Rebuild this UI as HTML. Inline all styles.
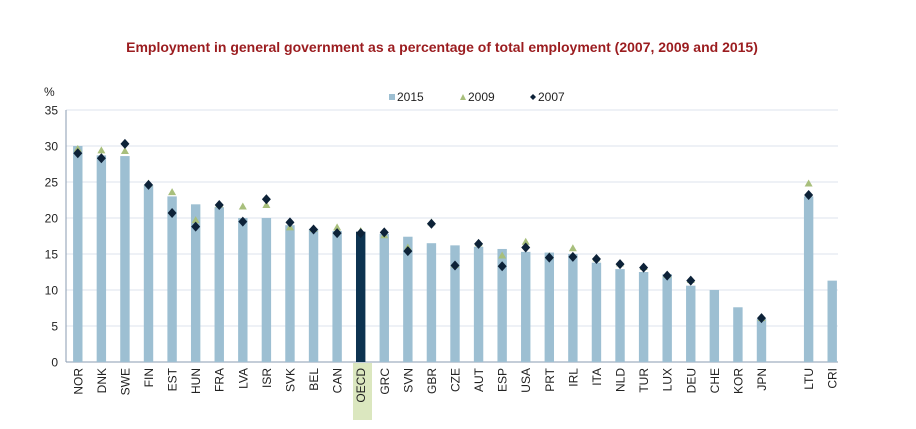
<!DOCTYPE html>
<html><head><meta charset="utf-8"><style>
html,body{margin:0;padding:0;background:#fff;}
svg{display:block;font-family:"Liberation Sans",sans-serif;}
</style></head><body>
<svg id="chart" width="916" height="429">
<text x="442" y="52" text-anchor="middle" font-size="14" font-weight="bold" fill="#9b1c1f">Employment in general government as a percentage of total employment (2007, 2009 and 2015)</text>
<text x="44" y="96" font-size="12" fill="#222">%</text>
<g>
<g><rect x="389" y="94" width="6" height="6" fill="#9dbfd2"/><text x="397" y="101" font-size="12" fill="#222">2015</text></g>
<g><polygon points="460,100 466,100 463,94" fill="#a8bf7c"/><text x="468" y="101" font-size="12" fill="#222">2009</text></g>
<g><polygon points="533,94 536,97 533,100 530,97" fill="#0d2238"/><text x="538" y="101" font-size="12" fill="#222">2007</text></g>
</g>
<rect x="353" y="363" width="19" height="57" fill="#dbe7bf"/>
<g id="grid"></g><g id="bars"></g><g id="marks"></g><g id="xlabels"></g>
</svg>
<script>
const categories=["NOR","DNK","SWE","FIN","EST","HUN","FRA","LVA","ISR","SVK","BEL","CAN","OECD","GRC","SVN","GBR","CZE","AUT","ESP","USA","PRT","IRL","ITA","NLD","TUR","LUX","DEU","CHE","KOR","JPN","","LTU","CRI"];
const values2015=[30,28.7,28.6,24.6,23.0,21.9,21.5,20.0,20.0,19.0,18.5,18.2,18.1,17.8,17.4,16.5,16.2,16.0,15.7,15.3,15.2,15.0,13.8,12.9,12.5,12.2,10.6,10.0,7.6,6.0,null,23.0,11.3];
const values2009=[29.6,29.4,29.3,24.8,23.6,19.7,21.9,21.6,21.8,18.7,18.5,18.7,18.2,17.6,15.9,19.4,13.5,16.5,14.8,16.7,14.7,15.8,14.4,13.7,13.2,12.1,11.4,null,null,6.1,null,24.8,null];
const values2007=[29.0,28.3,30.3,24.6,20.7,18.8,21.8,19.5,22.6,19.4,18.4,17.9,17.9,18.0,15.4,19.2,13.4,16.4,13.3,15.9,14.5,14.6,14.3,13.6,13.1,12.0,11.3,null,null,6.1,null,23.2,null];
const yTicks=[0,5,10,15,20,25,30,35];
const NS="http://www.w3.org/2000/svg";
const x0=66,x1=844,yBase=362,yTop=110,yMax=35;
const step=(x1-x0)/categories.length;
function xPos(i){return x0+step*(i+0.5);}
function yPos(v){return yBase-(v/yMax)*(yBase-yTop);}
function mk(t,a,p){const e=document.createElementNS(NS,t);for(const k in a)e.setAttribute(k,a[k]);p.appendChild(e);return e;}
const grid=document.getElementById('grid');
yTicks.forEach(t=>{
  const y=yPos(t);
  if(t>0){const l=mk('line',{x1:x0,x2:x1-6,y1:y,y2:y,stroke:'#dde3ee','stroke-width':1},grid);
  
  }
  const tx=mk('text',{x:58,y:y+4.5,'text-anchor':'end','font-size':12,fill:'#222'},grid);
  tx.textContent=t;
  
  
});
const ax=mk('line',{x1:x0,x2:x0,y1:yTop,y2:yBase,stroke:'#8a9bb0'},grid);


const xa=mk('line',{x1:x0,x2:x1-6,y1:yBase,y2:yBase,stroke:'#8a9bb0'},grid);


const bars=document.getElementById('bars'),marks=document.getElementById('marks'),xl=document.getElementById('xlabels');
categories.forEach((c,i)=>{
  const cx=xPos(i);
  if(values2015[i]!=null){
    const y=yPos(values2015[i]);
    const r=mk('rect',{x:cx-4.7,y:y,width:9.4,height:yBase-y,fill:c==='OECD'?'#0d3350':'#9dbfd2'},bars);
    
    
  }
  if(values2009[i]!=null){
    const y=yPos(values2009[i]);
    const p=mk('polygon',{points:`${cx-4},${y+3} ${cx+4},${y+3} ${cx},${y-4}`,fill:'#a8bf7c'},marks);
    
    
  }
  if(values2007[i]!=null){
    const y=yPos(values2007[i]);
    const p=mk('polygon',{points:`${cx},${y-5} ${cx+4.5},${y} ${cx},${y+5} ${cx-4.5},${y}`,fill:'#0d2238'},marks);
    
    
  }
  if(c){
    const t=mk('text',{x:0,y:0,'text-anchor':'end','font-size':12,fill:'#222',transform:`translate(${cx+4.5},368) rotate(-90)`},xl);
    t.textContent=c;
    
    
  }
});
</script>
</body></html>
